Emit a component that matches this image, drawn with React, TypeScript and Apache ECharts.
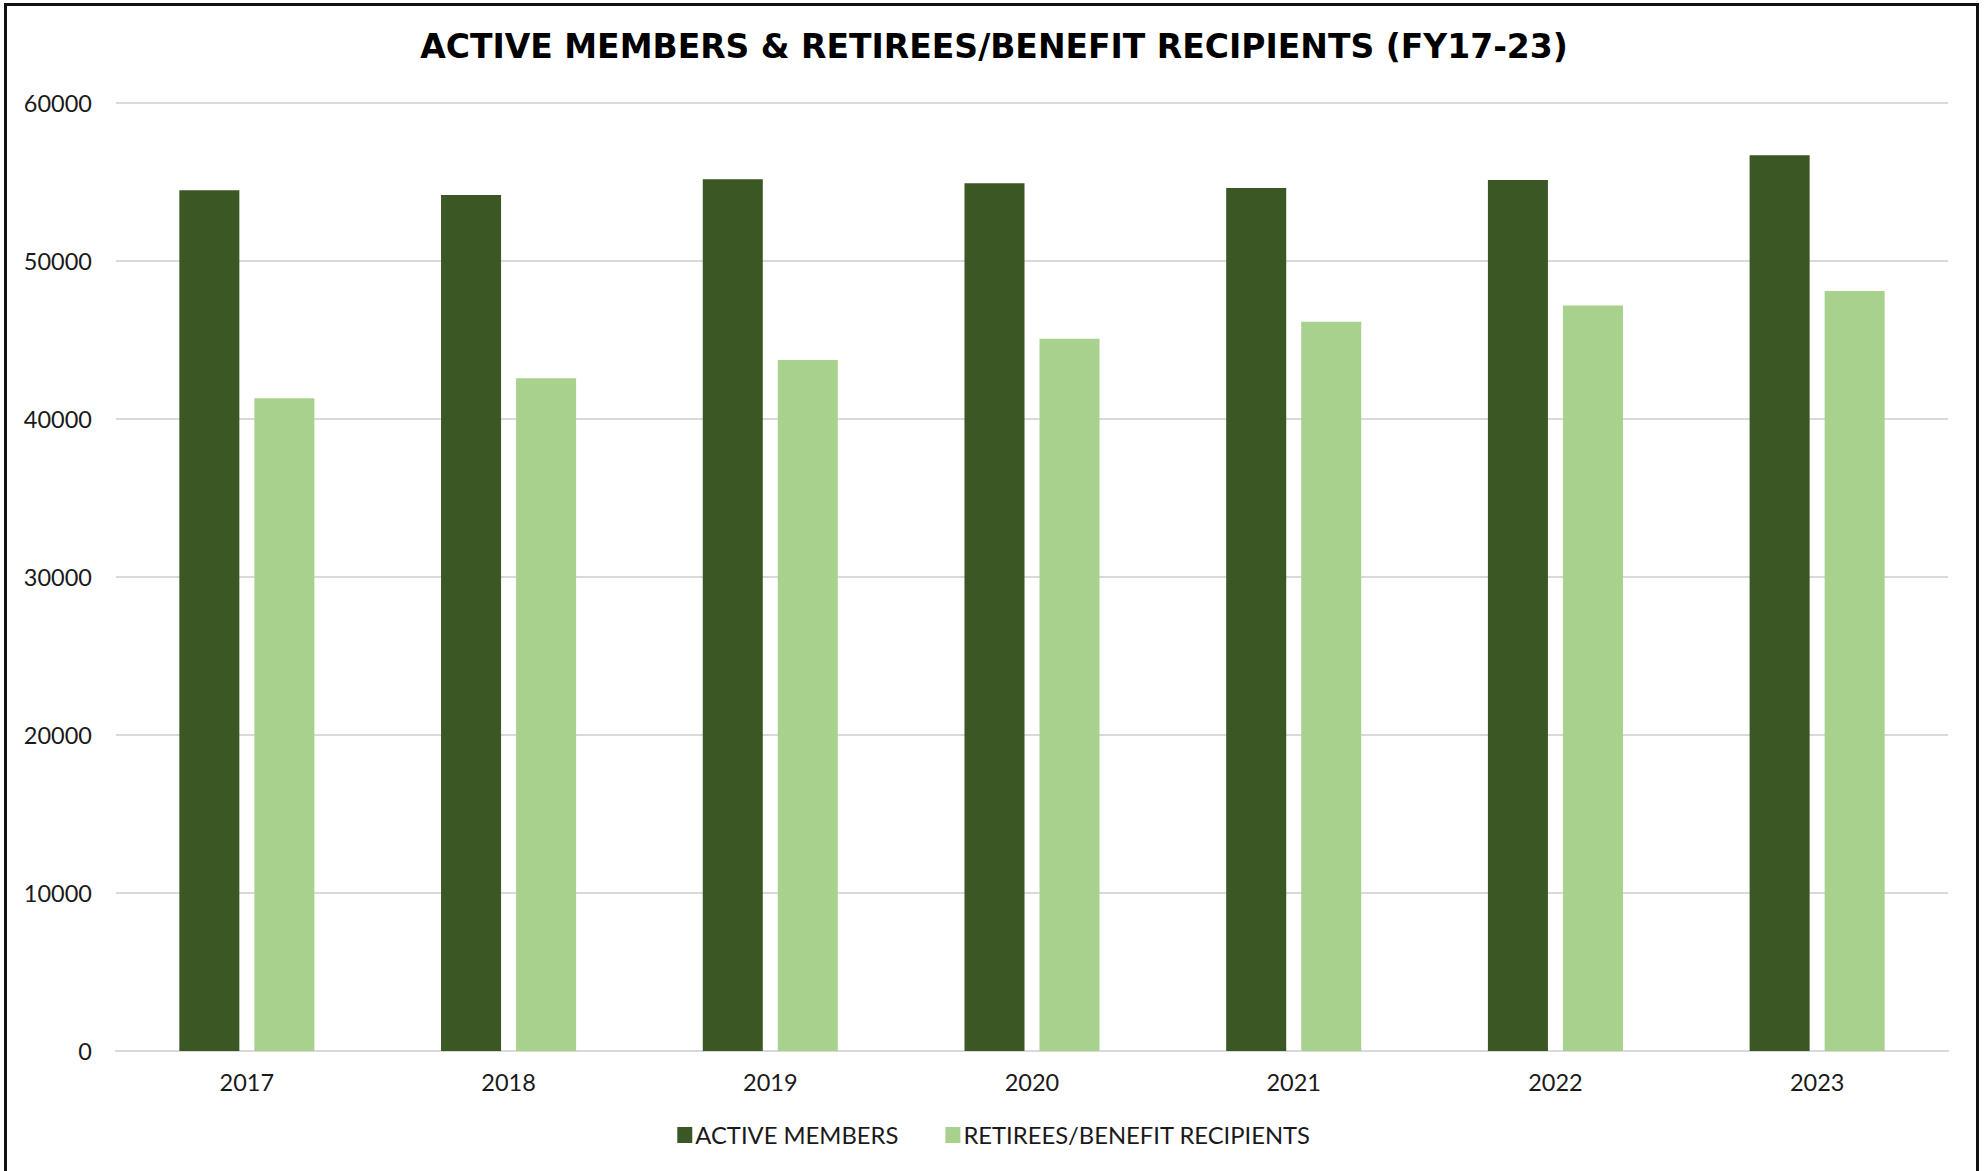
import React, { useEffect, useRef } from "react";
import * as echarts from "echarts";

const years = ["2017", "2018", "2019", "2020", "2021", "2022", "2023"];
const activeMembers = [54480, 54180, 55170, 54920, 54620, 55130, 56690];
const retirees = [41310, 42580, 43730, 45080, 46160, 47190, 48100];
const yTicks = { min: 0, max: 60000, interval: 10000 };
const titleText = "ACTIVE MEMBERS & RETIREES/BENEFIT RECIPIENTS (FY17-23)";
const seriesNames = ["ACTIVE MEMBERS", "RETIREES/BENEFIT RECIPIENTS"];

export default function App() {
  const ref = useRef<HTMLDivElement>(null);
  useEffect(() => {
    if (!ref.current) return;
    const chart = echarts.init(ref.current, undefined, { renderer: "svg" });
    const font = "Lato, 'Noto Sans', sans-serif";
    chart.setOption({
      animation: false,
      backgroundColor: "#ffffff",
      title: {
        text: titleText,
        left: "center",
        top: 25,
        textStyle: {
          fontFamily: "'DejaVu Sans', sans-serif",
          fontWeight: "bold",
          fontSize: 33,
          color: "#000000",
        },
      },
      graphic: [
        {
          type: "rect",
          shape: { x: 5.5, y: 4.5, width: 1972, height: 1200 },
          style: { fill: "none", stroke: "#111111", lineWidth: 3 },
          silent: true,
          z: 100,
        },
      ],
      legend: {
        bottom: 19,
        left: "center",
        itemWidth: 15,
        itemHeight: 16,
        itemGap: 47,
        icon: "rect",
        textStyle: { fontFamily: font, fontSize: 23.8, color: "#1a1a1a", padding: [0, 0, 0, -2] },
        data: seriesNames,
      },
      grid: { left: 116, right: 40, top: 103, bottom: 120, containLabel: false },
      xAxis: {
        type: "category",
        data: years,
        axisLine: { show: true, lineStyle: { color: "#D9D9D9", width: 2 } },
        axisTick: { show: false },
        axisLabel: { fontFamily: font, fontSize: 23.5, color: "#1a1a1a", margin: 19 },
      },
      yAxis: {
        type: "value",
        min: yTicks.min,
        max: yTicks.max,
        interval: yTicks.interval,
        axisLine: { show: false },
        axisTick: { show: false },
        splitLine: { lineStyle: { color: "#D9D9D9", width: 2 } },
        axisLabel: {
          fontFamily: font,
          fontSize: 23.5,
          color: "#1a1a1a",
          margin: 24,
          formatter: (v: number) => String(v),
        },
      },
      series: [
        {
          name: seriesNames[0],
          type: "bar",
          data: activeMembers,
          itemStyle: { color: "#3A5724" },
          barGap: "25%",
          barCategoryGap: "48.4%",
        },
        {
          name: seriesNames[1],
          type: "bar",
          data: retirees,
          itemStyle: { color: "#A9D18E" },
          barGap: "25%",
          barCategoryGap: "48.4%",
        },
      ],
    });
    return () => chart.dispose();
  }, []);
  return (
    <div
      ref={ref}
      style={{ position: "fixed", left: 0, top: 0, width: 1988, height: 1171 }}
    />
  );
}
